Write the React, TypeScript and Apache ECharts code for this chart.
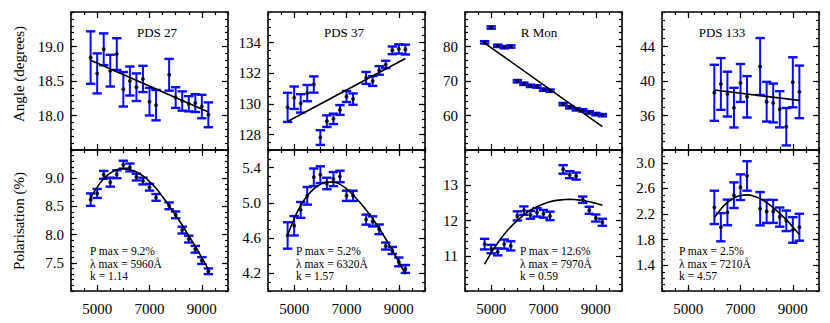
import React, { useEffect, useRef } from "react";
import * as echarts from "echarts";

// ---------- data ----------
const WAVE = [4750, 5000, 5250, 5500, 5750, 6000, 6250, 6500, 6750, 7000, 7250, 7750, 8000, 8250, 8500, 8750, 9000, 9250];
const WAVE_133 = [6000, 6250, 6500, 6750, 7000, 7250, 7750, 8000, 8250, 8500, 8750, 9000, 9250];
const CURVE_WAVE = [4750, 5000, 5250, 5500, 5750, 6000, 6250, 6500, 6750, 7000, 7250, 7500, 7750, 8000, 8250, 8500, 8750, 9000, 9250];
const CURVE_WAVE_133 = [6000, 6250, 6500, 6750, 7000, 7250, 7500, 7750, 8000, 8250, 8500, 8750, 9000, 9250];
const FIT_WAVE = [4750, 9250];
const FIT_WAVE_133 = [6000, 9250];

const PDS27_ANGLE = [18.84, 18.61, 18.96, 18.65, 18.89, 18.38, 18.5, 18.41, 18.53, 18.2, 18.15, 18.59, 18.26, 18.21, 18.17, 18.18, 18.13, 18.01];
const PDS27_ANGLE_ERR = [0.38, 0.29, 0.23, 0.23, 0.23, 0.25, 0.21, 0.2, 0.19, 0.2, 0.22, 0.23, 0.15, 0.14, 0.11, 0.13, 0.17, 0.18];
const PDS27_ANGLE_FIT = [18.8, 18.05];
const PDS27_POL = [8.62, 8.73, 9.06, 8.93, 9.07, 9.24, 9.19, 9.02, 8.95, 8.84, 8.66, 8.51, 8.35, 8.08, 7.92, 7.74, 7.54, 7.35];
const PDS27_POL_ERR = [0.11, 0.08, 0.07, 0.08, 0.07, 0.07, 0.07, 0.06, 0.06, 0.06, 0.06, 0.06, 0.06, 0.06, 0.06, 0.06, 0.06, 0.05];
const PDS27_CURVE = [8.65, 8.84, 8.99, 9.09, 9.15, 9.17, 9.15, 9.11, 9.04, 8.94, 8.82, 8.67, 8.51, 8.34, 8.17, 7.98, 7.79, 7.59, 7.38];

const PDS37_ANGLE = [129.78, 130.41, 130.04, 130.71, 131.27, 127.81, 128.88, 129.03, 129.61, 130.49, 130.32, 131.7, 131.5, 132.19, 132.58, 133.5, 133.59, 133.55];
const PDS37_ANGLE_ERR = [0.95, 0.73, 0.6, 0.53, 0.53, 0.48, 0.38, 0.34, 0.32, 0.36, 0.37, 0.39, 0.32, 0.28, 0.24, 0.25, 0.3, 0.32];
const PDS37_ANGLE_FIT = [128.86, 132.97];
const PDS37_POL = [4.63, 4.74, 4.92, 5.08, 5.29, 5.32, 5.22, 5.27, 5.3, 5.08, 5.08, 4.81, 4.79, 4.7, 4.51, 4.46, 4.33, 4.25];
const PDS37_POL_ERR = [0.15, 0.11, 0.09, 0.1, 0.1, 0.095, 0.065, 0.08, 0.065, 0.058, 0.058, 0.057, 0.057, 0.055, 0.04, 0.04, 0.05, 0.045];
const PDS37_CURVE = [4.63, 4.82, 4.97, 5.08, 5.16, 5.21, 5.235, 5.235, 5.21, 5.16, 5.09, 5.01, 4.92, 4.82, 4.71, 4.59, 4.46, 4.33, 4.19];

const RMON_ANGLE = [81.2, 85.5, 80.2, 79.8, 80.0, 69.95, 69.2, 68.6, 68.4, 67.5, 67.2, 63.3, 62.4, 61.8, 61.5, 60.9, 60.4, 60.1];
const RMON_ANGLE_ERR = [0.35, 0.35, 0.35, 0.35, 0.35, 0.35, 0.35, 0.35, 0.35, 0.35, 0.35, 0.35, 0.35, 0.35, 0.35, 0.35, 0.35, 0.35];
const RMON_ANGLE_FIT = [81.0, 56.8];
const RMON_POL = [11.33, 11.19, 11.11, 11.33, 11.28, 12.13, 12.28, 12.16, 12.23, 12.19, 12.13, 13.45, 13.3, 13.26, 12.59, 12.29, 12.07, 11.95];
const RMON_POL_ERR = [0.15, 0.12, 0.1, 0.13, 0.13, 0.13, 0.12, 0.11, 0.12, 0.11, 0.12, 0.12, 0.1, 0.1, 0.09, 0.1, 0.1, 0.1];
const RMON_CURVE = [10.76, 11.08, 11.36, 11.61, 11.82, 12.0, 12.16, 12.29, 12.39, 12.47, 12.53, 12.57, 12.59, 12.6, 12.59, 12.57, 12.53, 12.49, 12.43];

const PDS133_ANGLE = [38.63, 39.66, 38.48, 36.91, 39.77, 38.17, 41.68, 37.6, 37.45, 36.72, 34.7, 39.85, 38.74];
const PDS133_ANGLE_ERR = [3.25, 3.0, 2.6, 2.3, 2.2, 2.4, 3.3, 2.3, 2.25, 2.1, 2.17, 2.9, 3.05];
const PDS133_ANGLE_FIT = [38.95, 37.75];
const PDS133_POL = [2.305, 1.995, 2.226, 2.495, 2.62, 2.795, 2.284, 2.242, 2.242, 2.153, 2.095, 1.953, 1.995];
const PDS133_POL_ERR = [0.26, 0.22, 0.2, 0.2, 0.2, 0.23, 0.26, 0.18, 0.18, 0.15, 0.16, 0.2, 0.21];
const PDS133_CURVE = [2.14, 2.28, 2.38, 2.45, 2.49, 2.5, 2.48, 2.44, 2.38, 2.3, 2.21, 2.11, 2.0, 1.88];

const TITLES = ["PDS 27", "PDS 37", "R Mon", "PDS 133"];
const NOTES = [
  ["P max = 9.2%", "λ max = 5960Å", "k = 1.14"],
  ["P max = 5.2%", "λ max = 6320Å", "k = 1.57"],
  ["P max = 12.6%", "λ max = 7970Å", "k = 0.59"],
  ["P max = 2.5%", "λ max = 7210Å", "k = 4.57"],
];

// axis ticks
const X_RANGE = [4000, 10000];
const X_MAJOR = [5000, 7000, 9000];
const X_MINOR_STEP = 500;

const ANGLE_RANGES = [[17.5, 19.5], [127, 136], [50, 90], [32, 48]];
const ANGLE_MAJORS = [[18.0, 18.5, 19.0], [128, 130, 132, 134], [60, 70, 80], [36, 40, 44]];
const ANGLE_MINOR = [0.1, 0.5, 2, 1];
const ANGLE_DEC = [1, 0, 0, 0];

const POL_RANGES = [[7.0, 9.5], [4.0, 5.6], [10, 14], [1.0, 3.2]];
const POL_MAJORS = [[7.5, 8.0, 8.5, 9.0], [4.2, 4.6, 5.0, 5.4], [11, 12, 13], [1.4, 1.8, 2.2, 2.6, 3.0]];
const POL_MINOR = [0.1, 0.1, 0.2, 0.1];
const POL_DEC = [1, 1, 0, 1];

const Y_NAMES = ["Angle (degrees)", "Polarisation (%)"];

// ---------- styles / layout ----------
const BLUE = "#0a0aff";
const FONT = "Liberation Serif";
const GRID_LEFT = [71, 268, 465, 662];
const GRID_W = 157;
const ROW_TOP = [12, 150];
const ROW_H = [138, 141];
const TITLE_X = [157, 344, 539, 722];
const NOTE_X = [90, 296, 520, 679];
const NOTE_Y = [251, 263.5, 276];

const renderErr = (_params: any, api: any) => {
  const x = api.value(0);
  const y = api.value(1);
  const e = api.value(2);
  const p1 = api.coord([x, y + e]);
  const p2 = api.coord([x, y - e]);
  const h = 4.7;
  return {
    type: "group",
    children: [
      { type: "line", shape: { x1: p1[0], y1: p1[1], x2: p2[0], y2: p2[1] }, style: { stroke: BLUE, lineWidth: 2 } },
      { type: "line", shape: { x1: p1[0] - h, y1: p1[1], x2: p1[0] + h, y2: p1[1] }, style: { stroke: BLUE, lineWidth: 2.4 } },
      { type: "line", shape: { x1: p2[0] - h, y1: p2[1], x2: p2[0] + h, y2: p2[1] }, style: { stroke: BLUE, lineWidth: 2.4 } },
    ],
  };
};

function textEl(x: number, y: number, text: string, size: number, align: string, extra: any = {}) {
  return {
    type: "text", x, y, ...extra,
    style: {
      text, fontFamily: FONT, fontSize: size, fill: "#000",
      textAlign: align, textVerticalAlign: "middle", align, verticalAlign: "middle",
    },
  };
}

function buildOption() {
  const cols = [
    { wave: WAVE, cw: CURVE_WAVE, fw: FIT_WAVE, a: PDS27_ANGLE, ae: PDS27_ANGLE_ERR, af: PDS27_ANGLE_FIT, p: PDS27_POL, pe: PDS27_POL_ERR, pc: PDS27_CURVE },
    { wave: WAVE, cw: CURVE_WAVE, fw: FIT_WAVE, a: PDS37_ANGLE, ae: PDS37_ANGLE_ERR, af: PDS37_ANGLE_FIT, p: PDS37_POL, pe: PDS37_POL_ERR, pc: PDS37_CURVE },
    { wave: WAVE, cw: CURVE_WAVE, fw: FIT_WAVE, a: RMON_ANGLE, ae: RMON_ANGLE_ERR, af: RMON_ANGLE_FIT, p: RMON_POL, pe: RMON_POL_ERR, pc: RMON_CURVE },
    { wave: WAVE_133, cw: CURVE_WAVE_133, fw: FIT_WAVE_133, a: PDS133_ANGLE, ae: PDS133_ANGLE_ERR, af: PDS133_ANGLE_FIT, p: PDS133_POL, pe: PDS133_POL_ERR, pc: PDS133_CURVE },
  ];

  const grid: any[] = [];
  const xAxis: any[] = [];
  const yAxis: any[] = [];
  const series: any[] = [];
  const axisLineStyle = { color: "#000", width: 1.6 };
  const tickStyle = { color: "#000", width: 1.2 };
  const labelBase = { fontFamily: FONT, fontSize: 15, color: "#000" };

  let g = 0;
  for (let row = 0; row < 2; row++) {
    for (let c = 0; c < 4; c++) {
      grid.push({ left: GRID_LEFT[c], top: ROW_TOP[row], width: GRID_W, height: ROW_H[row] });
      const yr = row === 0 ? ANGLE_RANGES[c] : POL_RANGES[c];
      const ym = row === 0 ? ANGLE_MAJORS[c] : POL_MAJORS[c];
      const ys = row === 0 ? ANGLE_MINOR[c] : POL_MINOR[c];
      const yd = row === 0 ? ANGLE_DEC[c] : POL_DEC[c];

      for (const pos of ["bottom", "top"]) {
        xAxis.push({
          type: "value", gridIndex: g, position: pos, min: X_RANGE[0], max: X_RANGE[1],
          axisLine: { show: true, onZero: false, lineStyle: axisLineStyle },
          axisTick: { show: true, inside: true, length: 6, customValues: X_MAJOR, lineStyle: tickStyle },
          axisLabel: { show: row === 1 && pos === "bottom", customValues: X_MAJOR, margin: 10, ...labelBase, formatter: (v: number) => String(v) },
          splitLine: { show: false },
        });
        xAxis.push({
          type: "value", gridIndex: g, position: pos, min: X_RANGE[0], max: X_RANGE[1], interval: X_MINOR_STEP,
          axisLine: { show: false, onZero: false },
          axisTick: { show: true, inside: true, length: 3, lineStyle: tickStyle },
          axisLabel: { show: false },
          splitLine: { show: false },
        });
      }
      for (const pos of ["left", "right"]) {
        yAxis.push({
          type: "value", gridIndex: g, position: pos, min: yr[0], max: yr[1],
          axisLine: { show: true, onZero: false, lineStyle: axisLineStyle },
          axisTick: { show: true, inside: true, length: 6, customValues: ym, lineStyle: tickStyle },
          axisLabel: { show: pos === "left", customValues: ym, margin: 7, ...labelBase, formatter: (v: number) => v.toFixed(yd) },
          splitLine: { show: false },
        });
        yAxis.push({
          type: "value", gridIndex: g, position: pos, min: yr[0], max: yr[1], interval: ys,
          axisLine: { show: false, onZero: false },
          axisTick: { show: true, inside: true, length: 3, lineStyle: tickStyle },
          axisLabel: { show: false },
          splitLine: { show: false },
        });
      }

      const col = cols[c];
      const vals = row === 0 ? col.a : col.p;
      const errs = row === 0 ? col.ae : col.pe;
      const fitX = row === 0 ? col.fw : col.cw;
      const fitY = row === 0 ? col.af : col.pc;
      const ax = 4 * g;
      series.push({
        type: "custom", xAxisIndex: ax, yAxisIndex: ax, renderItem: renderErr, clip: false, z: 2,
        encode: { x: 0, y: 1 },
        data: col.wave.map((w, i) => [w, vals[i], errs[i]]),
      });
      series.push({
        type: "line", xAxisIndex: ax, yAxisIndex: ax, showSymbol: false, smooth: row === 1, z: 3,
        lineStyle: { color: "#000", width: 1.6 },
        data: fitX.map((w, i) => [w, fitY[i]]),
      });
      series.push({
        type: "scatter", xAxisIndex: ax, yAxisIndex: ax, symbolSize: 4, z: 4,
        itemStyle: { color: "#000" },
        data: col.wave.map((w, i) => [w, vals[i]]),
      });
      g++;
    }
  }

  const graphic: any[] = [];
  for (let c = 0; c < 4; c++) {
    graphic.push(textEl(TITLE_X[c], 32, TITLES[c], 13, "center"));
    NOTES[c].forEach((line, i) => {
      graphic.push(textEl(NOTE_X[c], NOTE_Y[i], line, 11.5, "left"));
    });
  }
  graphic.push(textEl(19, 74, Y_NAMES[0], 15, "center", { rotation: Math.PI / 2 }));
  graphic.push(textEl(19, 221, Y_NAMES[1], 15, "center", { rotation: Math.PI / 2 }));

  return { animation: false, backgroundColor: "#fff", grid, xAxis, yAxis, series, graphic };
}

export default function App() {
  const ref = useRef<HTMLDivElement>(null);
  useEffect(() => {
    const chart = echarts.init(ref.current as HTMLDivElement, null, { renderer: "svg" });
    chart.setOption(buildOption() as any);
    return () => chart.dispose();
  }, []);
  return <div ref={ref} style={{ position: "fixed", left: 0, top: 0, width: 830, height: 323 }} />;
}
